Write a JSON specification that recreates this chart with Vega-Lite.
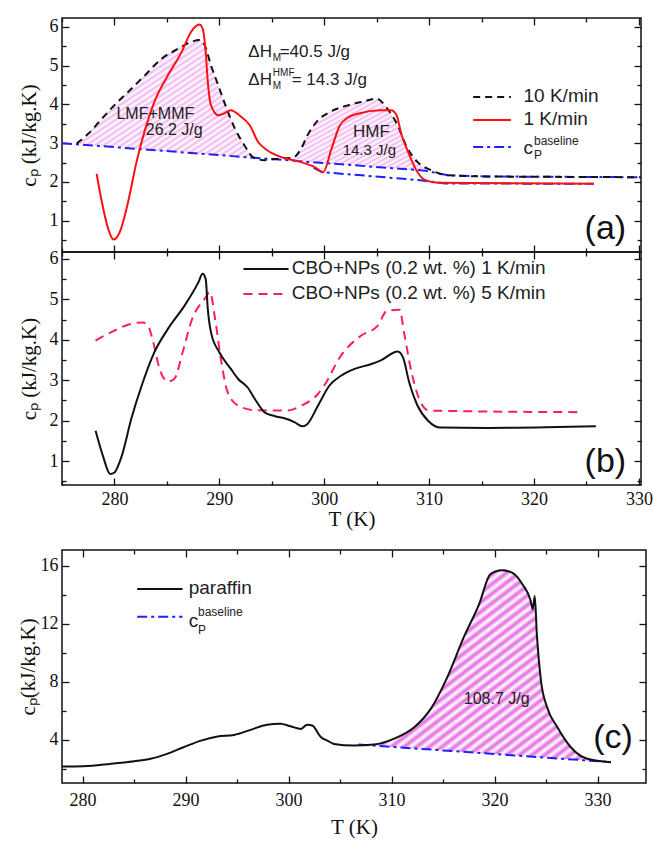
{
  "$schema": "https://vega.github.io/schema/vega-lite/v6.json",
  "padding": {"left": 16, "top": 16, "right": 4, "bottom": 2},
  "config": {
    "view": {"stroke": "#111", "strokeWidth": 1.5},
    "axis": {"domain": false, "grid": false, "tickColor": "#111", "tickWidth": 1.3, "labelFont": "Liberation Serif", "labelFontSize": 18, "labelColor": "#111", "titleFont": "Liberation Serif", "titleFontSize": 21, "titleFontWeight": "normal", "titleColor": "#111", "labelFlush": false, "labelOverlap": false},
    "text": {"font": "Liberation Sans", "color": "#222"}
  },
  "datasets": {
    "a10": [
      {"T": 276.4, "cp": 2.99}, {"T": 277.5, "cp": 3.24}, {"T": 278.8, "cp": 3.63}, {"T": 280.0, "cp": 3.98}, {"T": 281.3, "cp": 4.32},
      {"T": 282.9, "cp": 4.75}, {"T": 284.5, "cp": 5.18}, {"T": 286.1, "cp": 5.44}, {"T": 287.3, "cp": 5.61}, {"T": 288.1, "cp": 5.66},
      {"T": 288.6, "cp": 5.53}, {"T": 289.2, "cp": 5.01}, {"T": 289.9, "cp": 4.49}, {"T": 290.7, "cp": 3.89}, {"T": 291.5, "cp": 3.37},
      {"T": 292.4, "cp": 2.94}, {"T": 293.2, "cp": 2.64}, {"T": 294.3, "cp": 2.56}, {"T": 295.6, "cp": 2.6}, {"T": 297.0, "cp": 2.62},
      {"T": 297.8, "cp": 2.86}, {"T": 298.4, "cp": 3.2}, {"T": 299.4, "cp": 3.59}, {"T": 300.5, "cp": 3.8}, {"T": 302.3, "cp": 3.98},
      {"T": 303.8, "cp": 4.08}, {"T": 305.0, "cp": 4.15}, {"T": 305.9, "cp": 3.93}, {"T": 307.0, "cp": 3.46}, {"T": 307.8, "cp": 2.94},
      {"T": 308.9, "cp": 2.51}, {"T": 310.2, "cp": 2.3}, {"T": 311.8, "cp": 2.17}, {"T": 315.6, "cp": 2.14}, {"T": 322.0, "cp": 2.13},
      {"T": 330.2, "cp": 2.12}
    ],
    "a1": [
      {"T": 278.3, "cp": 2.21}, {"T": 278.8, "cp": 1.48}, {"T": 279.4, "cp": 0.79}, {"T": 279.9, "cp": 0.51}, {"T": 280.5, "cp": 0.7},
      {"T": 281.3, "cp": 1.48}, {"T": 282.1, "cp": 2.51}, {"T": 282.9, "cp": 3.33}, {"T": 283.8, "cp": 4.06}, {"T": 285.1, "cp": 4.75},
      {"T": 286.4, "cp": 5.35}, {"T": 287.3, "cp": 5.87}, {"T": 288.1, "cp": 6.06}, {"T": 288.4, "cp": 5.96}, {"T": 288.7, "cp": 5.35},
      {"T": 288.9, "cp": 4.58}, {"T": 289.2, "cp": 3.98}, {"T": 289.9, "cp": 3.72}, {"T": 290.4, "cp": 3.76}, {"T": 291.1, "cp": 3.85},
      {"T": 291.9, "cp": 3.72}, {"T": 292.9, "cp": 3.46}, {"T": 293.7, "cp": 3.03}, {"T": 294.6, "cp": 2.81}, {"T": 295.9, "cp": 2.64},
      {"T": 297.8, "cp": 2.51}, {"T": 299.1, "cp": 2.38}, {"T": 299.9, "cp": 2.25}, {"T": 300.7, "cp": 2.86}, {"T": 301.5, "cp": 3.46},
      {"T": 302.2, "cp": 3.65}, {"T": 303.2, "cp": 3.76}, {"T": 305.4, "cp": 3.85}, {"T": 306.4, "cp": 3.85}, {"T": 306.9, "cp": 3.72},
      {"T": 307.3, "cp": 3.29}, {"T": 308.0, "cp": 2.77}, {"T": 308.9, "cp": 2.25}, {"T": 309.6, "cp": 2.05}, {"T": 310.8, "cp": 1.98},
      {"T": 325.7, "cp": 1.95}
    ],
    "aBase1": [
      {"T": 275.0, "cp": 3.0}, {"T": 292.0, "cp": 2.65}, {"T": 309.6, "cp": 2.29}, {"T": 311.8, "cp": 2.17}, {"T": 315.6, "cp": 2.14}, {"T": 330.2, "cp": 2.12}
    ],
    "aBase2": [
      {"T": 299.0, "cp": 2.36}, {"T": 299.8, "cp": 2.25}, {"T": 304.0, "cp": 2.16}, {"T": 309.2, "cp": 2.04}, {"T": 311.5, "cp": 1.96}, {"T": 325.7, "cp": 1.95}
    ],
    "aLMF": [
      {"T": 276.4, "top": 2.99, "base": 2.97}, {"T": 277.5, "top": 3.24, "base": 2.95}, {"T": 278.8, "top": 3.63, "base": 2.92},
      {"T": 280.0, "top": 3.98, "base": 2.9}, {"T": 281.3, "top": 4.32, "base": 2.87}, {"T": 282.9, "top": 4.75, "base": 2.84},
      {"T": 284.5, "top": 5.18, "base": 2.8}, {"T": 286.1, "top": 5.44, "base": 2.77}, {"T": 287.3, "top": 5.61, "base": 2.75},
      {"T": 288.1, "top": 5.66, "base": 2.73}, {"T": 288.6, "top": 5.53, "base": 2.72}, {"T": 289.2, "top": 5.01, "base": 2.71},
      {"T": 289.9, "top": 4.49, "base": 2.69}, {"T": 290.7, "top": 3.89, "base": 2.68}, {"T": 291.5, "top": 3.37, "base": 2.66},
      {"T": 292.4, "top": 2.94, "base": 2.64}, {"T": 293.2, "top": 2.64, "base": 2.63}
    ],
    "aHMF": [
      {"T": 297.0, "top": 2.62, "base": 2.55}, {"T": 297.8, "top": 2.86, "base": 2.53}, {"T": 298.4, "top": 3.2, "base": 2.52},
      {"T": 299.4, "top": 3.59, "base": 2.5}, {"T": 300.5, "top": 3.8, "base": 2.47}, {"T": 302.3, "top": 3.98, "base": 2.44},
      {"T": 303.8, "top": 4.08, "base": 2.41}, {"T": 305.0, "top": 4.15, "base": 2.38}, {"T": 305.9, "top": 3.93, "base": 2.36},
      {"T": 307.0, "top": 3.46, "base": 2.34}, {"T": 307.8, "top": 2.94, "base": 2.32}, {"T": 308.9, "top": 2.51, "base": 2.3},
      {"T": 309.6, "top": 2.33, "base": 2.29}
    ],
    "b1": [
      {"T": 278.2, "cp": 1.75}, {"T": 278.9, "cp": 1.13}, {"T": 279.6, "cp": 0.68}, {"T": 280.0, "cp": 0.72}, {"T": 280.7, "cp": 1.13},
      {"T": 281.6, "cp": 2.04}, {"T": 282.6, "cp": 2.87}, {"T": 283.8, "cp": 3.69}, {"T": 285.1, "cp": 4.27}, {"T": 286.7, "cp": 4.85},
      {"T": 288.0, "cp": 5.42}, {"T": 288.4, "cp": 5.63}, {"T": 288.7, "cp": 5.5}, {"T": 288.9, "cp": 4.76}, {"T": 289.2, "cp": 4.19},
      {"T": 290.0, "cp": 3.69}, {"T": 291.1, "cp": 3.28}, {"T": 291.8, "cp": 3.03}, {"T": 292.7, "cp": 2.82}, {"T": 293.4, "cp": 2.53},
      {"T": 294.3, "cp": 2.21}, {"T": 295.3, "cp": 2.11}, {"T": 296.2, "cp": 2.06}, {"T": 297.2, "cp": 1.96}, {"T": 297.9, "cp": 1.86},
      {"T": 298.4, "cp": 1.92}, {"T": 299.4, "cp": 2.37}, {"T": 300.5, "cp": 2.87}, {"T": 301.6, "cp": 3.11}, {"T": 302.9, "cp": 3.28},
      {"T": 304.5, "cp": 3.4}, {"T": 305.4, "cp": 3.49}, {"T": 307.0, "cp": 3.71}, {"T": 307.5, "cp": 3.57}, {"T": 308.1, "cp": 2.95},
      {"T": 308.9, "cp": 2.37}, {"T": 309.9, "cp": 2.0}, {"T": 311.1, "cp": 1.83}, {"T": 315.6, "cp": 1.82}, {"T": 325.9, "cp": 1.86}
    ],
    "b5": [
      {"T": 278.2, "cp": 3.98}, {"T": 279.7, "cp": 4.19}, {"T": 281.3, "cp": 4.37}, {"T": 282.7, "cp": 4.43}, {"T": 283.2, "cp": 4.35},
      {"T": 283.7, "cp": 3.94}, {"T": 284.3, "cp": 3.28}, {"T": 285.1, "cp": 2.97}, {"T": 285.7, "cp": 3.03}, {"T": 286.5, "cp": 3.69},
      {"T": 287.4, "cp": 4.51}, {"T": 288.6, "cp": 5.01}, {"T": 289.1, "cp": 5.18}, {"T": 289.6, "cp": 4.51}, {"T": 290.2, "cp": 3.44},
      {"T": 290.8, "cp": 2.7}, {"T": 291.8, "cp": 2.37}, {"T": 293.4, "cp": 2.26}, {"T": 296.5, "cp": 2.25}, {"T": 297.8, "cp": 2.37},
      {"T": 299.4, "cp": 2.66}, {"T": 300.0, "cp": 2.87}, {"T": 301.6, "cp": 3.61}, {"T": 303.5, "cp": 4.1}, {"T": 305.1, "cp": 4.35},
      {"T": 306.0, "cp": 4.72}, {"T": 307.2, "cp": 4.74}, {"T": 307.6, "cp": 4.19}, {"T": 308.4, "cp": 3.11}, {"T": 309.2, "cp": 2.45},
      {"T": 310.0, "cp": 2.25}, {"T": 324.5, "cp": 2.21}
    ],
    "c": [
      {"T": 278.0, "cp": 2.14}, {"T": 280.1, "cp": 2.16}, {"T": 282.7, "cp": 2.32}, {"T": 285.0, "cp": 2.5}, {"T": 286.6, "cp": 2.67},
      {"T": 288.2, "cp": 3.01}, {"T": 289.8, "cp": 3.47}, {"T": 291.5, "cp": 3.93}, {"T": 293.1, "cp": 4.21}, {"T": 294.7, "cp": 4.32},
      {"T": 296.3, "cp": 4.67}, {"T": 297.9, "cp": 5.03}, {"T": 299.2, "cp": 5.1}, {"T": 300.2, "cp": 4.92}, {"T": 301.2, "cp": 4.74},
      {"T": 301.8, "cp": 5.03}, {"T": 302.3, "cp": 4.97}, {"T": 303.1, "cp": 4.2}, {"T": 303.9, "cp": 3.88}, {"T": 304.4, "cp": 3.7},
      {"T": 306.3, "cp": 3.59}, {"T": 308.3, "cp": 3.66}, {"T": 310.2, "cp": 4.05}, {"T": 312.2, "cp": 4.85}, {"T": 313.8, "cp": 6.12},
      {"T": 315.4, "cp": 8.3}, {"T": 317.0, "cp": 11.06}, {"T": 318.5, "cp": 13.36}, {"T": 319.6, "cp": 15.43}, {"T": 320.7, "cp": 15.7},
      {"T": 321.7, "cp": 15.54}, {"T": 322.7, "cp": 14.74}, {"T": 323.5, "cp": 13.59}, {"T": 323.7, "cp": 13.01}, {"T": 323.9, "cp": 13.93},
      {"T": 324.1, "cp": 11.29}, {"T": 324.5, "cp": 8.07}, {"T": 325.1, "cp": 6.23}, {"T": 326.1, "cp": 4.85}, {"T": 327.4, "cp": 3.47},
      {"T": 329.0, "cp": 2.67}, {"T": 331.3, "cp": 2.44}
    ],
    "cBase": [
      {"T": 306.8, "cp": 3.66}, {"T": 319.0, "cp": 3.05}, {"T": 331.3, "cp": 2.44}
    ],
    "cArea": [
      {"T": 306.8, "top": 3.63, "base": 3.63}, {"T": 308.3, "top": 3.66, "base": 3.59}, {"T": 310.2, "top": 4.05, "base": 3.49},
      {"T": 312.2, "top": 4.85, "base": 3.39}, {"T": 313.8, "top": 6.12, "base": 3.31}, {"T": 315.4, "top": 8.3, "base": 3.23},
      {"T": 317.0, "top": 11.06, "base": 3.15}, {"T": 318.5, "top": 13.36, "base": 3.08}, {"T": 319.6, "top": 15.43, "base": 3.02},
      {"T": 320.7, "top": 15.7, "base": 2.97}, {"T": 321.7, "top": 15.54, "base": 2.92}, {"T": 322.7, "top": 14.74, "base": 2.87},
      {"T": 323.5, "top": 13.59, "base": 2.83}, {"T": 323.7, "top": 13.01, "base": 2.82}, {"T": 323.9, "top": 13.93, "base": 2.81},
      {"T": 324.1, "top": 11.29, "base": 2.8}, {"T": 324.5, "top": 8.07, "base": 2.78}, {"T": 325.1, "top": 6.23, "base": 2.75},
      {"T": 326.1, "top": 4.85, "base": 2.7}, {"T": 327.4, "top": 3.47, "base": 2.63}, {"T": 329.0, "top": 2.67, "base": 2.55},
      {"T": 331.3, "top": 2.44, "base": 2.44}
    ]
  },
  "spacing": 18,
  "vconcat": [
    {
      "spacing": 0,
      "bounds": "flush",
      "vconcat": [
        {
          "width": 579, "height": 234,
          "data": {"values": [{}]},
          "resolve": {"axis": {"x": "independent", "y": "independent"}},
          "layer": [
            {"data": {"name": "aLMF"}, "mark": {"type": "area", "fillOpacity": 0.4, "interpolate": "monotone", "fill": {"gradient": "linear", "x1": 0, "y1": 0, "x2": 1, "y2": 1, "stops": [
        {"offset": 0, "color": "#e050dc"}, {"offset": 0.0125, "color": "#ffffff"}, {"offset": 0.025, "color": "#e050dc"}, {"offset": 0.0375, "color": "#ffffff"},
        {"offset": 0.05, "color": "#e050dc"}, {"offset": 0.0625, "color": "#ffffff"}, {"offset": 0.075, "color": "#e050dc"}, {"offset": 0.0875, "color": "#ffffff"},
        {"offset": 0.1, "color": "#e050dc"}, {"offset": 0.1125, "color": "#ffffff"}, {"offset": 0.125, "color": "#e050dc"}, {"offset": 0.1375, "color": "#ffffff"},
        {"offset": 0.15, "color": "#e050dc"}, {"offset": 0.1625, "color": "#ffffff"}, {"offset": 0.175, "color": "#e050dc"}, {"offset": 0.1875, "color": "#ffffff"},
        {"offset": 0.2, "color": "#e050dc"}, {"offset": 0.2125, "color": "#ffffff"}, {"offset": 0.225, "color": "#e050dc"}, {"offset": 0.2375, "color": "#ffffff"},
        {"offset": 0.25, "color": "#e050dc"}, {"offset": 0.2625, "color": "#ffffff"}, {"offset": 0.275, "color": "#e050dc"}, {"offset": 0.2875, "color": "#ffffff"},
        {"offset": 0.3, "color": "#e050dc"}, {"offset": 0.3125, "color": "#ffffff"}, {"offset": 0.325, "color": "#e050dc"}, {"offset": 0.3375, "color": "#ffffff"},
        {"offset": 0.35, "color": "#e050dc"}, {"offset": 0.3625, "color": "#ffffff"}, {"offset": 0.375, "color": "#e050dc"}, {"offset": 0.3875, "color": "#ffffff"},
        {"offset": 0.4, "color": "#e050dc"}, {"offset": 0.4125, "color": "#ffffff"}, {"offset": 0.425, "color": "#e050dc"}, {"offset": 0.4375, "color": "#ffffff"},
        {"offset": 0.45, "color": "#e050dc"}, {"offset": 0.4625, "color": "#ffffff"}, {"offset": 0.475, "color": "#e050dc"}, {"offset": 0.4875, "color": "#ffffff"},
        {"offset": 0.5, "color": "#e050dc"}, {"offset": 0.5125, "color": "#ffffff"}, {"offset": 0.525, "color": "#e050dc"}, {"offset": 0.5375, "color": "#ffffff"},
        {"offset": 0.55, "color": "#e050dc"}, {"offset": 0.5625, "color": "#ffffff"}, {"offset": 0.575, "color": "#e050dc"}, {"offset": 0.5875, "color": "#ffffff"},
        {"offset": 0.6, "color": "#e050dc"}, {"offset": 0.6125, "color": "#ffffff"}, {"offset": 0.625, "color": "#e050dc"}, {"offset": 0.6375, "color": "#ffffff"},
        {"offset": 0.65, "color": "#e050dc"}, {"offset": 0.6625, "color": "#ffffff"}, {"offset": 0.675, "color": "#e050dc"}, {"offset": 0.6875, "color": "#ffffff"},
        {"offset": 0.7, "color": "#e050dc"}, {"offset": 0.7125, "color": "#ffffff"}, {"offset": 0.725, "color": "#e050dc"}, {"offset": 0.7375, "color": "#ffffff"},
        {"offset": 0.75, "color": "#e050dc"}, {"offset": 0.7625, "color": "#ffffff"}, {"offset": 0.775, "color": "#e050dc"}, {"offset": 0.7875, "color": "#ffffff"},
        {"offset": 0.8, "color": "#e050dc"}, {"offset": 0.8125, "color": "#ffffff"}, {"offset": 0.825, "color": "#e050dc"}, {"offset": 0.8375, "color": "#ffffff"},
        {"offset": 0.85, "color": "#e050dc"}, {"offset": 0.8625, "color": "#ffffff"}, {"offset": 0.875, "color": "#e050dc"}, {"offset": 0.8875, "color": "#ffffff"},
        {"offset": 0.9, "color": "#e050dc"}, {"offset": 0.9125, "color": "#ffffff"}, {"offset": 0.925, "color": "#e050dc"}, {"offset": 0.9375, "color": "#ffffff"},
        {"offset": 0.95, "color": "#e050dc"}, {"offset": 0.9625, "color": "#ffffff"}, {"offset": 0.975, "color": "#e050dc"}, {"offset": 0.9875, "color": "#ffffff"},
        {"offset": 1, "color": "#e050dc"}]}},
             "encoding": {"x": {"field": "T", "type": "quantitative", "scale": {"domain": [275, 330.2], "nice": false, "zero": false}, "axis": null},
                          "y": {"field": "top", "type": "quantitative", "scale": {"domain": [0.19, 6.23], "nice": false, "zero": false}, "axis": null},
                          "y2": {"field": "base"}}},
            {"data": {"name": "aHMF"}, "mark": {"type": "area", "fillOpacity": 0.4, "interpolate": "monotone", "fill": {"gradient": "linear", "x1": 0, "y1": 0, "x2": 1, "y2": 1, "stops": [
        {"offset": 0, "color": "#e050dc"}, {"offset": 0.0167, "color": "#ffffff"}, {"offset": 0.0333, "color": "#e050dc"}, {"offset": 0.05, "color": "#ffffff"},
        {"offset": 0.0667, "color": "#e050dc"}, {"offset": 0.0833, "color": "#ffffff"}, {"offset": 0.1, "color": "#e050dc"}, {"offset": 0.1167, "color": "#ffffff"},
        {"offset": 0.1333, "color": "#e050dc"}, {"offset": 0.15, "color": "#ffffff"}, {"offset": 0.1667, "color": "#e050dc"}, {"offset": 0.1833, "color": "#ffffff"},
        {"offset": 0.2, "color": "#e050dc"}, {"offset": 0.2167, "color": "#ffffff"}, {"offset": 0.2333, "color": "#e050dc"}, {"offset": 0.25, "color": "#ffffff"},
        {"offset": 0.2667, "color": "#e050dc"}, {"offset": 0.2833, "color": "#ffffff"}, {"offset": 0.3, "color": "#e050dc"}, {"offset": 0.3167, "color": "#ffffff"},
        {"offset": 0.3333, "color": "#e050dc"}, {"offset": 0.35, "color": "#ffffff"}, {"offset": 0.3667, "color": "#e050dc"}, {"offset": 0.3833, "color": "#ffffff"},
        {"offset": 0.4, "color": "#e050dc"}, {"offset": 0.4167, "color": "#ffffff"}, {"offset": 0.4333, "color": "#e050dc"}, {"offset": 0.45, "color": "#ffffff"},
        {"offset": 0.4667, "color": "#e050dc"}, {"offset": 0.4833, "color": "#ffffff"}, {"offset": 0.5, "color": "#e050dc"}, {"offset": 0.5167, "color": "#ffffff"},
        {"offset": 0.5333, "color": "#e050dc"}, {"offset": 0.55, "color": "#ffffff"}, {"offset": 0.5667, "color": "#e050dc"}, {"offset": 0.5833, "color": "#ffffff"},
        {"offset": 0.6, "color": "#e050dc"}, {"offset": 0.6167, "color": "#ffffff"}, {"offset": 0.6333, "color": "#e050dc"}, {"offset": 0.65, "color": "#ffffff"},
        {"offset": 0.6667, "color": "#e050dc"}, {"offset": 0.6833, "color": "#ffffff"}, {"offset": 0.7, "color": "#e050dc"}, {"offset": 0.7167, "color": "#ffffff"},
        {"offset": 0.7333, "color": "#e050dc"}, {"offset": 0.75, "color": "#ffffff"}, {"offset": 0.7667, "color": "#e050dc"}, {"offset": 0.7833, "color": "#ffffff"},
        {"offset": 0.8, "color": "#e050dc"}, {"offset": 0.8167, "color": "#ffffff"}, {"offset": 0.8333, "color": "#e050dc"}, {"offset": 0.85, "color": "#ffffff"},
        {"offset": 0.8667, "color": "#e050dc"}, {"offset": 0.8833, "color": "#ffffff"}, {"offset": 0.9, "color": "#e050dc"}, {"offset": 0.9167, "color": "#ffffff"},
        {"offset": 0.9333, "color": "#e050dc"}, {"offset": 0.95, "color": "#ffffff"}, {"offset": 0.9667, "color": "#e050dc"}, {"offset": 0.9833, "color": "#ffffff"},
        {"offset": 1, "color": "#e050dc"}]}},
             "encoding": {"x": {"field": "T", "type": "quantitative", "scale": {"domain": [275, 330.2], "nice": false, "zero": false}, "axis": null},
                          "y": {"field": "top", "type": "quantitative", "scale": {"domain": [0.19, 6.23], "nice": false, "zero": false}, "axis": null},
                          "y2": {"field": "base"}}},
            {"data": {"name": "aBase1"}, "mark": {"type": "line", "color": "#1f1fff", "strokeWidth": 2, "strokeDash": [10, 4, 3, 4]},
             "encoding": {"x": {"field": "T", "type": "quantitative", "scale": {"domain": [275, 330.2], "nice": false, "zero": false},
                                "axis": {"orient": "bottom", "values": [275, 285, 295, 305, 315, 325], "tickSize": -4, "labels": false, "title": null}},
                          "y": {"field": "cp", "type": "quantitative", "scale": {"domain": [0.19, 6.23], "nice": false, "zero": false},
                                "axis": {"orient": "left", "values": [0.5, 1.5, 2.5, 3.5, 4.5, 5.5], "tickSize": -4, "labels": false, "title": null}}}},
            {"data": {"name": "aBase2"}, "mark": {"type": "line", "color": "#1f1fff", "strokeWidth": 2, "strokeDash": [10, 4, 3, 4]},
             "encoding": {"x": {"field": "T", "type": "quantitative", "scale": {"domain": [275, 330.2], "nice": false, "zero": false},
                                "axis": {"orient": "top", "values": [275, 285, 295, 305, 315, 325], "tickSize": -4, "labels": false, "title": null}},
                          "y": {"field": "cp", "type": "quantitative", "scale": {"domain": [0.19, 6.23], "nice": false, "zero": false},
                                "axis": {"orient": "right", "values": [0.5, 1.5, 2.5, 3.5, 4.5, 5.5], "tickSize": -4, "labels": false, "title": null}}}},
            {"data": {"name": "a10"}, "mark": {"type": "line", "color": "#111", "strokeWidth": 2, "strokeDash": [7, 5], "interpolate": "monotone"},
             "encoding": {"x": {"field": "T", "type": "quantitative", "scale": {"domain": [275, 330.2], "nice": false, "zero": false},
                                "axis": {"orient": "bottom", "values": [280, 290, 300, 310, 320, 330], "tickSize": -7, "labels": false, "title": null}},
                          "y": {"field": "cp", "type": "quantitative", "scale": {"domain": [0.19, 6.23], "nice": false, "zero": false},
                                "axis": {"orient": "left", "values": [1, 2, 3, 4, 5, 6], "tickSize": -7, "labelPadding": 11, "title": "cₚ (kJ/kg.K)", "titlePadding": 10}}}},
            {"data": {"name": "a1"}, "mark": {"type": "line", "color": "#ff1010", "strokeWidth": 2, "interpolate": "monotone"},
             "encoding": {"x": {"field": "T", "type": "quantitative", "scale": {"domain": [275, 330.2], "nice": false, "zero": false},
                                "axis": {"orient": "top", "values": [280, 290, 300, 310, 320, 330], "tickSize": -7, "labels": false, "title": null}},
                          "y": {"field": "cp", "type": "quantitative", "scale": {"domain": [0.19, 6.23], "nice": false, "zero": false},
                                "axis": {"orient": "right", "values": [1, 2, 3, 4, 5, 6], "tickSize": -7, "labels": false, "title": null}}}},
            {"mark": {"type": "rule", "color": "#111", "strokeWidth": 2, "strokeDash": [7, 5]},
             "encoding": {"x": {"datum": 314.2, "type": "quantitative", "axis": null}, "x2": {"datum": 317.8}, "y": {"datum": 4.19, "type": "quantitative", "axis": null}}},
            {"mark": {"type": "rule", "color": "#ff1010", "strokeWidth": 2},
             "encoding": {"x": {"datum": 314.2, "type": "quantitative", "axis": null}, "x2": {"datum": 317.8}, "y": {"datum": 3.6, "type": "quantitative", "axis": null}}},
            {"mark": {"type": "rule", "color": "#1f1fff", "strokeWidth": 2, "strokeDash": [10, 4, 3, 4]},
             "encoding": {"x": {"datum": 314.2, "type": "quantitative", "axis": null}, "x2": {"datum": 317.8}, "y": {"datum": 2.9, "type": "quantitative", "axis": null}}},
            {"mark": {"type": "text", "text": "10 K/min", "fontSize": 19, "align": "left", "baseline": "middle"},
             "encoding": {"x": {"datum": 319.0, "type": "quantitative", "axis": null}, "y": {"datum": 4.22, "type": "quantitative", "axis": null}}},
            {"mark": {"type": "text", "text": "1 K/min", "fontSize": 19, "align": "left", "baseline": "middle"},
             "encoding": {"x": {"datum": 319.0, "type": "quantitative", "axis": null}, "y": {"datum": 3.62, "type": "quantitative", "axis": null}}},
            {"mark": {"type": "text", "text": "c", "fontSize": 19, "align": "left", "baseline": "middle"},
             "encoding": {"x": {"datum": 319.0, "type": "quantitative", "axis": null}, "y": {"datum": 2.88, "type": "quantitative", "axis": null}}},
            {"mark": {"type": "text", "text": "P", "fontSize": 12, "align": "left", "baseline": "middle"},
             "encoding": {"x": {"datum": 320.0, "type": "quantitative", "axis": null}, "y": {"datum": 2.7, "type": "quantitative", "axis": null}}},
            {"mark": {"type": "text", "text": "baseline", "fontSize": 12, "align": "left", "baseline": "middle"},
             "encoding": {"x": {"datum": 320.0, "type": "quantitative", "axis": null}, "y": {"datum": 3.06, "type": "quantitative", "axis": null}}},
            {"mark": {"type": "text", "text": "LMF+MMF", "fontSize": 16, "align": "center", "baseline": "middle"},
             "encoding": {"x": {"datum": 283.9, "type": "quantitative", "axis": null}, "y": {"datum": 3.75, "type": "quantitative", "axis": null}}},
            {"mark": {"type": "text", "text": "26.2 J/g", "fontSize": 16, "align": "center", "baseline": "middle"},
             "encoding": {"x": {"datum": 285.7, "type": "quantitative", "axis": null}, "y": {"datum": 3.34, "type": "quantitative", "axis": null}}},
            {"mark": {"type": "text", "text": "HMF", "fontSize": 17, "align": "center", "baseline": "middle"},
             "encoding": {"x": {"datum": 304.5, "type": "quantitative", "axis": null}, "y": {"datum": 3.29, "type": "quantitative", "axis": null}}},
            {"mark": {"type": "text", "text": "14.3 J/g", "fontSize": 15, "align": "center", "baseline": "middle"},
             "encoding": {"x": {"datum": 304.3, "type": "quantitative", "axis": null}, "y": {"datum": 2.82, "type": "quantitative", "axis": null}}},
            {"mark": {"type": "text", "text": "ΔH", "fontSize": 17, "align": "left", "baseline": "middle"},
             "encoding": {"x": {"datum": 292.76, "type": "quantitative", "axis": null}, "y": {"datum": 5.35, "type": "quantitative", "axis": null}}},
            {"mark": {"type": "text", "text": "M", "fontSize": 10, "align": "left", "baseline": "middle"},
             "encoding": {"x": {"datum": 295.1, "type": "quantitative", "axis": null}, "y": {"datum": 5.2, "type": "quantitative", "axis": null}}},
            {"mark": {"type": "text", "text": "=40.5 J/g", "fontSize": 17, "align": "left", "baseline": "middle"},
             "encoding": {"x": {"datum": 295.75, "type": "quantitative", "axis": null}, "y": {"datum": 5.35, "type": "quantitative", "axis": null}}},
            {"mark": {"type": "text", "text": "ΔH", "fontSize": 17, "align": "left", "baseline": "middle"},
             "encoding": {"x": {"datum": 292.76, "type": "quantitative", "axis": null}, "y": {"datum": 4.63, "type": "quantitative", "axis": null}}},
            {"mark": {"type": "text", "text": "HMF", "fontSize": 10, "align": "left", "baseline": "middle"},
             "encoding": {"x": {"datum": 295.1, "type": "quantitative", "axis": null}, "y": {"datum": 4.8, "type": "quantitative", "axis": null}}},
            {"mark": {"type": "text", "text": "M", "fontSize": 10, "align": "left", "baseline": "middle"},
             "encoding": {"x": {"datum": 295.1, "type": "quantitative", "axis": null}, "y": {"datum": 4.48, "type": "quantitative", "axis": null}}},
            {"mark": {"type": "text", "text": "= 14.3 J/g", "fontSize": 17, "align": "left", "baseline": "middle"},
             "encoding": {"x": {"datum": 296.9, "type": "quantitative", "axis": null}, "y": {"datum": 4.63, "type": "quantitative", "axis": null}}},
            {"mark": {"type": "text", "text": "(a)", "fontSize": 34, "align": "center", "baseline": "middle", "color": "#111"},
             "encoding": {"x": {"datum": 326.8, "type": "quantitative", "axis": null}, "y": {"datum": 0.78, "type": "quantitative", "axis": null}}}
          ]
        },
        {
          "width": 579, "height": 233,
          "data": {"values": [{}]},
          "resolve": {"axis": {"x": "independent", "y": "independent"}},
          "layer": [
            {"data": {"name": "b5"}, "mark": {"type": "line", "color": "#ff2050", "strokeWidth": 2, "strokeDash": [9, 6], "interpolate": "monotone"},
             "encoding": {"x": {"field": "T", "type": "quantitative", "scale": {"domain": [275, 330.2], "nice": false, "zero": false},
                                "axis": {"orient": "top", "values": [280, 290, 300, 310, 320, 330], "tickSize": -7, "labels": false, "title": null}},
                          "y": {"field": "cp", "type": "quantitative", "scale": {"domain": [0.41, 6.17], "nice": false, "zero": false},
                                "axis": {"orient": "right", "values": [1, 2, 3, 4, 5, 6], "tickSize": -7, "labels": false, "title": null}}}},
            {"data": {"name": "b1"}, "mark": {"type": "line", "color": "#111", "strokeWidth": 2, "interpolate": "monotone"},
             "encoding": {"x": {"field": "T", "type": "quantitative", "scale": {"domain": [275, 330.2], "nice": false, "zero": false},
                                "axis": {"orient": "bottom", "values": [280, 290, 300, 310, 320, 330], "tickSize": -7, "labelPadding": 12, "title": "T (K)", "titlePadding": 0}},
                          "y": {"field": "cp", "type": "quantitative", "scale": {"domain": [0.41, 6.17], "nice": false, "zero": false},
                                "axis": {"orient": "left", "values": [1, 2, 3, 4, 5, 6], "tickSize": -7, "labelPadding": 11, "title": "cₚ (kJ/kg.K)", "titlePadding": 10}}}},
            {"mark": {"type": "rule", "color": "#111", "strokeWidth": 2},
             "encoding": {"x": {"datum": 292.3, "type": "quantitative", "scale": {"domain": [275, 330.2], "nice": false, "zero": false},
                                "axis": {"orient": "bottom", "values": [275, 285, 295, 305, 315, 325], "tickSize": -4, "labels": false, "title": null}},
                          "x2": {"datum": 296.6},
                          "y": {"datum": 5.75, "type": "quantitative", "scale": {"domain": [0.41, 6.17], "nice": false, "zero": false},
                                "axis": {"orient": "left", "values": [0.5, 1.5, 2.5, 3.5, 4.5, 5.5], "tickSize": -4, "labels": false, "title": null}}}},
            {"mark": {"type": "rule", "color": "#ff2050", "strokeWidth": 2, "strokeDash": [9, 6]},
             "encoding": {"x": {"datum": 292.3, "type": "quantitative", "scale": {"domain": [275, 330.2], "nice": false, "zero": false},
                                "axis": {"orient": "top", "values": [275, 285, 295, 305, 315, 325], "tickSize": -4, "labels": false, "title": null}},
                          "x2": {"datum": 296.6},
                          "y": {"datum": 5.13, "type": "quantitative", "scale": {"domain": [0.41, 6.17], "nice": false, "zero": false},
                                "axis": {"orient": "right", "values": [0.5, 1.5, 2.5, 3.5, 4.5, 5.5], "tickSize": -4, "labels": false, "title": null}}}},
            {"mark": {"type": "text", "text": "CBO+NPs (0.2 wt. %) 1 K/min", "fontSize": 19, "align": "left", "baseline": "middle"},
             "encoding": {"x": {"datum": 296.9, "type": "quantitative", "axis": null}, "y": {"datum": 5.77, "type": "quantitative", "axis": null}}},
            {"mark": {"type": "text", "text": "CBO+NPs (0.2 wt. %) 5 K/min", "fontSize": 19, "align": "left", "baseline": "middle"},
             "encoding": {"x": {"datum": 296.9, "type": "quantitative", "axis": null}, "y": {"datum": 5.15, "type": "quantitative", "axis": null}}},
            {"mark": {"type": "text", "text": "(b)", "fontSize": 34, "align": "center", "baseline": "middle", "color": "#111"},
             "encoding": {"x": {"datum": 326.8, "type": "quantitative", "axis": null}, "y": {"datum": 0.97, "type": "quantitative", "axis": null}}}
          ]
        }
      ]
    },
    {
      "width": 584, "height": 233,
      "data": {"values": [{}]},
      "resolve": {"axis": {"x": "independent", "y": "independent"}},
      "layer": [
        {"data": {"name": "cArea"}, "mark": {"type": "area", "fillOpacity": 0.85, "interpolate": "monotone", "fill": {"gradient": "linear", "x1": 0, "y1": 0, "x2": 1, "y2": 1, "stops": [
        {"offset": 0, "color": "#e050dc"}, {"offset": 0.0125, "color": "#ffffff"}, {"offset": 0.025, "color": "#e050dc"}, {"offset": 0.0375, "color": "#ffffff"},
        {"offset": 0.05, "color": "#e050dc"}, {"offset": 0.0625, "color": "#ffffff"}, {"offset": 0.075, "color": "#e050dc"}, {"offset": 0.0875, "color": "#ffffff"},
        {"offset": 0.1, "color": "#e050dc"}, {"offset": 0.1125, "color": "#ffffff"}, {"offset": 0.125, "color": "#e050dc"}, {"offset": 0.1375, "color": "#ffffff"},
        {"offset": 0.15, "color": "#e050dc"}, {"offset": 0.1625, "color": "#ffffff"}, {"offset": 0.175, "color": "#e050dc"}, {"offset": 0.1875, "color": "#ffffff"},
        {"offset": 0.2, "color": "#e050dc"}, {"offset": 0.2125, "color": "#ffffff"}, {"offset": 0.225, "color": "#e050dc"}, {"offset": 0.2375, "color": "#ffffff"},
        {"offset": 0.25, "color": "#e050dc"}, {"offset": 0.2625, "color": "#ffffff"}, {"offset": 0.275, "color": "#e050dc"}, {"offset": 0.2875, "color": "#ffffff"},
        {"offset": 0.3, "color": "#e050dc"}, {"offset": 0.3125, "color": "#ffffff"}, {"offset": 0.325, "color": "#e050dc"}, {"offset": 0.3375, "color": "#ffffff"},
        {"offset": 0.35, "color": "#e050dc"}, {"offset": 0.3625, "color": "#ffffff"}, {"offset": 0.375, "color": "#e050dc"}, {"offset": 0.3875, "color": "#ffffff"},
        {"offset": 0.4, "color": "#e050dc"}, {"offset": 0.4125, "color": "#ffffff"}, {"offset": 0.425, "color": "#e050dc"}, {"offset": 0.4375, "color": "#ffffff"},
        {"offset": 0.45, "color": "#e050dc"}, {"offset": 0.4625, "color": "#ffffff"}, {"offset": 0.475, "color": "#e050dc"}, {"offset": 0.4875, "color": "#ffffff"},
        {"offset": 0.5, "color": "#e050dc"}, {"offset": 0.5125, "color": "#ffffff"}, {"offset": 0.525, "color": "#e050dc"}, {"offset": 0.5375, "color": "#ffffff"},
        {"offset": 0.55, "color": "#e050dc"}, {"offset": 0.5625, "color": "#ffffff"}, {"offset": 0.575, "color": "#e050dc"}, {"offset": 0.5875, "color": "#ffffff"},
        {"offset": 0.6, "color": "#e050dc"}, {"offset": 0.6125, "color": "#ffffff"}, {"offset": 0.625, "color": "#e050dc"}, {"offset": 0.6375, "color": "#ffffff"},
        {"offset": 0.65, "color": "#e050dc"}, {"offset": 0.6625, "color": "#ffffff"}, {"offset": 0.675, "color": "#e050dc"}, {"offset": 0.6875, "color": "#ffffff"},
        {"offset": 0.7, "color": "#e050dc"}, {"offset": 0.7125, "color": "#ffffff"}, {"offset": 0.725, "color": "#e050dc"}, {"offset": 0.7375, "color": "#ffffff"},
        {"offset": 0.75, "color": "#e050dc"}, {"offset": 0.7625, "color": "#ffffff"}, {"offset": 0.775, "color": "#e050dc"}, {"offset": 0.7875, "color": "#ffffff"},
        {"offset": 0.8, "color": "#e050dc"}, {"offset": 0.8125, "color": "#ffffff"}, {"offset": 0.825, "color": "#e050dc"}, {"offset": 0.8375, "color": "#ffffff"},
        {"offset": 0.85, "color": "#e050dc"}, {"offset": 0.8625, "color": "#ffffff"}, {"offset": 0.875, "color": "#e050dc"}, {"offset": 0.8875, "color": "#ffffff"},
        {"offset": 0.9, "color": "#e050dc"}, {"offset": 0.9125, "color": "#ffffff"}, {"offset": 0.925, "color": "#e050dc"}, {"offset": 0.9375, "color": "#ffffff"},
        {"offset": 0.95, "color": "#e050dc"}, {"offset": 0.9625, "color": "#ffffff"}, {"offset": 0.975, "color": "#e050dc"}, {"offset": 0.9875, "color": "#ffffff"},
        {"offset": 1, "color": "#e050dc"}]}},
         "encoding": {"x": {"field": "T", "type": "quantitative", "scale": {"domain": [278, 334.7], "nice": false, "zero": false},
                            "axis": {"orient": "top", "values": [280, 290, 300, 310, 320, 330], "tickSize": -7, "labels": false, "title": null}},
                      "y": {"field": "top", "type": "quantitative", "scale": {"domain": [1.0, 17.1], "nice": false, "zero": false},
                            "axis": {"orient": "right", "values": [4, 8, 12, 16], "tickSize": -7, "labels": false, "title": null}},
                      "y2": {"field": "base"}}},
        {"data": {"name": "cBase"}, "mark": {"type": "line", "color": "#1f1fff", "strokeWidth": 2, "strokeDash": [10, 4, 3, 4]},
         "encoding": {"x": {"field": "T", "type": "quantitative", "scale": {"domain": [278, 334.7], "nice": false, "zero": false},
                            "axis": {"orient": "bottom", "values": [285, 295, 305, 315, 325], "tickSize": -4, "labels": false, "title": null}},
                      "y": {"field": "cp", "type": "quantitative", "scale": {"domain": [1.0, 17.1], "nice": false, "zero": false},
                            "axis": {"orient": "left", "values": [2, 6, 10, 14], "tickSize": -4, "labels": false, "title": null}}}},
        {"data": {"name": "c"}, "mark": {"type": "line", "color": "#111", "strokeWidth": 2, "interpolate": "monotone"},
         "encoding": {"x": {"field": "T", "type": "quantitative", "scale": {"domain": [278, 334.7], "nice": false, "zero": false},
                            "axis": {"orient": "bottom", "values": [280, 290, 300, 310, 320, 330], "tickSize": -7, "labelPadding": 15, "title": "T (K)", "titlePadding": 7}},
                      "y": {"field": "cp", "type": "quantitative", "scale": {"domain": [1.0, 17.1], "nice": false, "zero": false},
                            "axis": {"orient": "left", "values": [4, 8, 12, 16], "tickSize": -7, "labelPadding": 11, "title": "cₚ(kJ/kg.K)", "titlePadding": 2}}}},
        {"mark": {"type": "rule", "color": "#111", "strokeWidth": 2},
         "encoding": {"x": {"datum": 285.3, "type": "quantitative", "scale": {"domain": [278, 334.7], "nice": false, "zero": false},
                            "axis": {"orient": "top", "values": [285, 295, 305, 315, 325], "tickSize": -4, "labels": false, "title": null}},
                      "x2": {"datum": 289.7},
                      "y": {"datum": 14.41, "type": "quantitative", "scale": {"domain": [1.0, 17.1], "nice": false, "zero": false},
                            "axis": {"orient": "right", "values": [2, 6, 10, 14], "tickSize": -4, "labels": false, "title": null}}}},
        {"mark": {"type": "rule", "color": "#1f1fff", "strokeWidth": 2, "strokeDash": [10, 4, 3, 4]},
         "encoding": {"x": {"datum": 285.3, "type": "quantitative", "axis": null}, "x2": {"datum": 289.7}, "y": {"datum": 12.48, "type": "quantitative", "axis": null}}},
        {"mark": {"type": "text", "text": "paraffin", "fontSize": 19, "align": "left", "baseline": "middle"},
         "encoding": {"x": {"datum": 290.3, "type": "quantitative", "axis": null}, "y": {"datum": 14.5, "type": "quantitative", "axis": null}}},
        {"mark": {"type": "text", "text": "c", "fontSize": 19, "align": "left", "baseline": "middle"},
         "encoding": {"x": {"datum": 290.3, "type": "quantitative", "axis": null}, "y": {"datum": 12.2, "type": "quantitative", "axis": null}}},
        {"mark": {"type": "text", "text": "P", "fontSize": 12, "align": "left", "baseline": "middle"},
         "encoding": {"x": {"datum": 291.2, "type": "quantitative", "axis": null}, "y": {"datum": 11.6, "type": "quantitative", "axis": null}}},
        {"mark": {"type": "text", "text": "baseline", "fontSize": 12, "align": "left", "baseline": "middle"},
         "encoding": {"x": {"datum": 291.2, "type": "quantitative", "axis": null}, "y": {"datum": 12.8, "type": "quantitative", "axis": null}}},
        {"mark": {"type": "text", "text": "108.7 J/g", "fontSize": 16, "align": "center", "baseline": "middle"},
         "encoding": {"x": {"datum": 320.2, "type": "quantitative", "axis": null}, "y": {"datum": 6.83, "type": "quantitative", "axis": null}}},
        {"mark": {"type": "text", "text": "(c)", "fontSize": 34, "align": "center", "baseline": "middle", "color": "#111"},
         "encoding": {"x": {"datum": 331.5, "type": "quantitative", "axis": null}, "y": {"datum": 4.14, "type": "quantitative", "axis": null}}}
      ]
    }
  ]
}
